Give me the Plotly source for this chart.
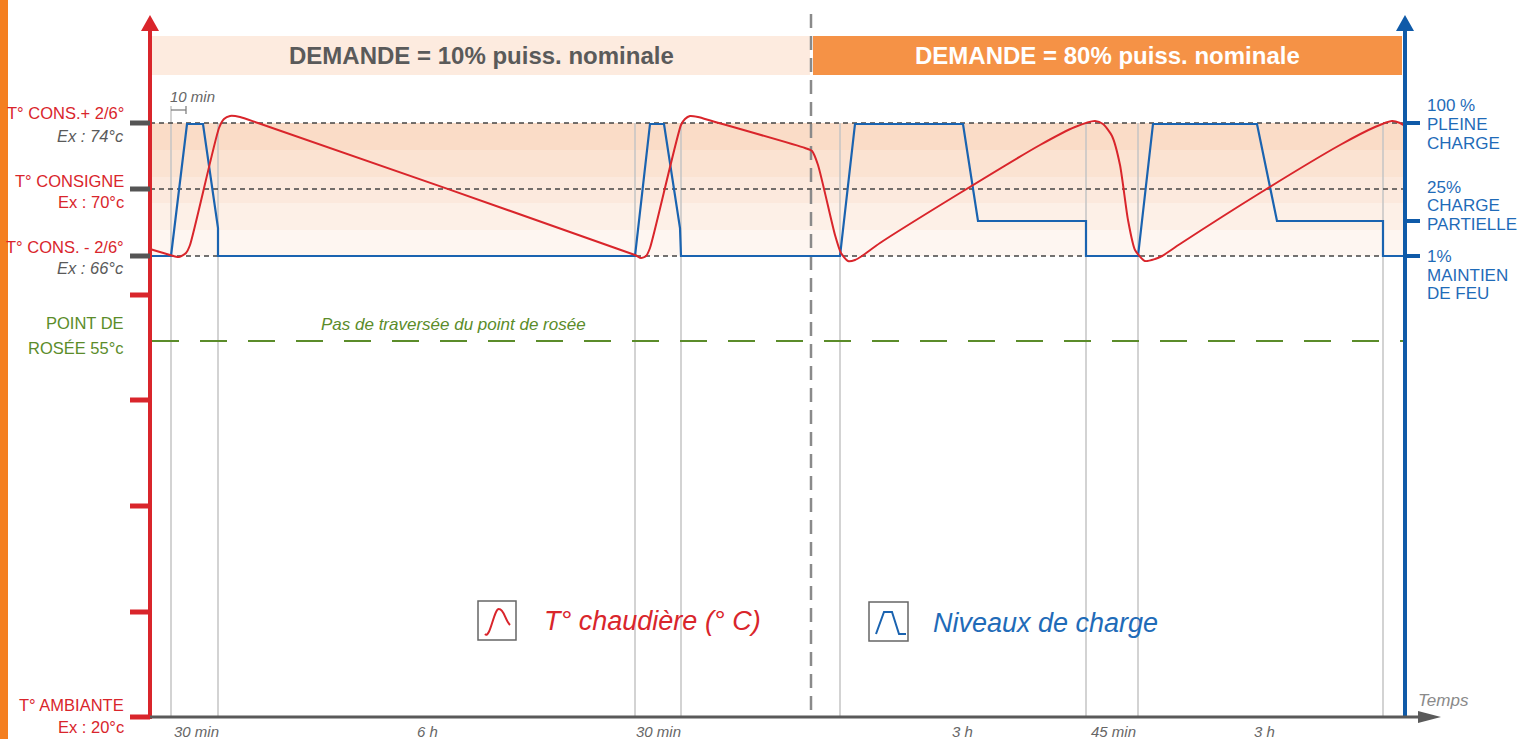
import plotly.graph_objects as go

# ---------------- data (schematic positions: x = time position, y = level row) ----------------
red_t = [150, 170, 179, 186, 190, 219, 224, 230, 240, 258, 635, 641, 646, 650, 681, 685, 690, 698, 712, 805,
         812, 818, 835, 841, 848, 855, 862, 880, 960, 1040, 1075, 1095, 1103, 1112, 1120, 1128, 1135, 1145,
         1155, 1162, 1180, 1260, 1340, 1375, 1392, 1400, 1405]
red_level = [249, 255, 257, 253, 245, 128, 119, 116, 117, 123, 255, 258, 256, 248, 125, 119, 116, 117, 121, 148,
             151, 165, 235, 253, 261, 260, 256, 243, 193, 145, 127, 121, 124, 136, 165, 220, 250, 261,
             259, 256, 244, 193, 145, 127, 121, 123, 126]

blue_t = [150, 171, 187, 203, 218, 218, 635, 650, 664, 680, 681, 840, 855, 963, 978, 1086, 1086, 1138, 1153,
          1257, 1277, 1383, 1383, 1405]
blue_level = [256, 256, 124, 124, 228, 256, 256, 124, 124, 228, 256, 256, 124, 124, 221, 221, 256, 256, 124,
              124, 221, 221, 256, 256]

cycle_marks = [171, 218, 635, 681, 840, 1086, 1138, 1383]
time_labels = ["30 min", "6 h", "30 min", "3 h", "45 min", "3 h"]
time_label_pos = [196, 427, 658, 962, 1113, 1264]

temp_rows = [123, 189, 256]          # T°cons+2/6, T°consigne, T°cons-2/6
red_tick_rows = [295, 400, 506, 612, 717]
dew_row = 341
load_rows = [123, 221, 256]          # 100 %, 25 %, 1 %
band_edges = [123, 150, 177, 203, 230, 256]
band_colors = ["#fadcc7", "#fbe3d2", "#fce9dd", "#fdf0e7", "#fef6f1"]

left_labels = [("T° CONS.+ 2/6°", 113, "#d9252b", False), ("Ex : 74°c", 136, "#5a5a5a", True),
               ("T° CONSIGNE", 181, "#d9252b", False), ("Ex : 70°c", 202, "#d9252b", False),
               ("T° CONS. - 2/6°", 247, "#d9252b", False), ("Ex : 66°c", 268, "#5a5a5a", True),
               ("POINT DE", 323, "#5b8c2a", False), ("ROSÉE 55°c", 348, "#5b8c2a", False),
               ("T° AMBIANTE", 705, "#d9252b", False), ("Ex : 20°c", 727, "#d9252b", False)]
right_labels = [("100 %", 105), ("PLEINE", 124), ("CHARGE", 143),
                ("25%", 187), ("CHARGE", 205), ("PARTIELLE", 224),
                ("1%", 256), ("MAINTIEN", 275), ("DE FEU", 293)]

RED = "#d9252b"
BLUE = "#1a63b0"
GREEN = "#5b8c2a"
GRAY = "#5a5a5a"
FONT = "Liberation Sans, Arial, sans-serif"

X0, X1 = 150, 1405
AXIS_Y = 717

fig = go.Figure()
shapes = []
ann = []

# left orange strip
shapes.append(dict(type="rect", x0=0, x1=8, y0=0, y1=739, fillcolor="#f47f20", line_width=0, layer="below"))

# bands
for i, c in enumerate(band_colors):
    shapes.append(dict(type="rect", x0=X0, x1=X1, y0=band_edges[i], y1=band_edges[i + 1],
                       fillcolor=c, line_width=0, layer="below"))

# banners
shapes.append(dict(type="rect", x0=152, x1=810, y0=36, y1=75, fillcolor="#fdebdf", line_width=0, layer="below"))
shapes.append(dict(type="rect", x0=813, x1=1402, y0=36, y1=75, fillcolor="#f59246", line_width=0, layer="below"))
ann.append(dict(x=481, y=55, text="<b>DEMANDE = 10% puiss. nominale</b>", font=dict(size=24, color=GRAY, family=FONT)))
ann.append(dict(x=1107, y=55, text="<b>DEMANDE = 80% puiss. nominale</b>", font=dict(size=24, color="white", family=FONT)))

# cycle vertical markers
for xm in cycle_marks:
    shapes.append(dict(type="line", x0=xm, x1=xm, y0=123 if xm != 171 else 106, y1=AXIS_Y,
                       line=dict(color="#c4c4c4", width=1.5), layer="below"))

# 10 min bracket
shapes.append(dict(type="line", x0=171, x1=186, y0=110, y1=110, line=dict(color="#777", width=1.2)))
shapes.append(dict(type="line", x0=186, x1=186, y0=106, y1=114, line=dict(color="#777", width=1.2)))
ann.append(dict(x=192, y=96, text="<i>10 min</i>", font=dict(size=15, color="#666", family=FONT)))

# temperature threshold dashed lines
for r in temp_rows:
    shapes.append(dict(type="line", x0=X0, x1=X1, y0=r, y1=r, line=dict(color="#444", width=1.3, dash="5px,4px"),
                       layer="below"))

# center dashed divider
shapes.append(dict(type="line", x0=811, x1=811, y0=14, y1=AXIS_Y, line=dict(color="#8a8a8a", width=2.5, dash="14px,8px"),
                   layer="below"))

# dew point line
shapes.append(dict(type="line", x0=152, x1=X1, y0=dew_row, y1=dew_row, line=dict(color=GREEN, width=2, dash="27px,21px"),
                   layer="below"))
ann.append(dict(x=453, y=324, text="<i>Pas de traversée du point de rosée</i>", font=dict(size=17, color=GREEN, family=FONT)))

# curves
fig.add_trace(go.Scatter(x=blue_t, y=blue_level, mode="lines", line=dict(color=BLUE, width=2.2), hoverinfo="skip"))
fig.add_trace(go.Scatter(x=red_t, y=red_level, mode="lines", line=dict(color=RED, width=2, shape="spline", smoothing=0.6),
                         hoverinfo="skip"))

# axes
shapes.append(dict(type="line", x0=X0, x1=X0, y0=28, y1=AXIS_Y + 2, line=dict(color=RED, width=4), layer="above"))
shapes.append(dict(type="path", path="M 141 31 L 150 15 L 159 31 Z", fillcolor=RED, line_width=0, layer="above"))
shapes.append(dict(type="line", x0=X1, x1=X1, y0=28, y1=AXIS_Y, line=dict(color="#0f5aa8", width=4), layer="above"))
shapes.append(dict(type="path", path="M 1396 31 L 1405 15 L 1414 31 Z", fillcolor="#0f5aa8", line_width=0, layer="above"))
shapes.append(dict(type="line", x0=X0, x1=1420, y0=AXIS_Y, y1=AXIS_Y, line=dict(color="#5a5a5a", width=3), layer="above"))
shapes.append(dict(type="path", path="M 1418 711 L 1441 717 L 1418 723 Z", fillcolor="#5a5a5a", line_width=0, layer="above"))
ann.append(dict(x=1443, y=700, text="<i>Temps</i>", font=dict(size=17, color="#8a8a8a", family=FONT)))

# ticks
for r in temp_rows:
    shapes.append(dict(type="line", x0=130, x1=X0, y0=r, y1=r, line=dict(color="#555", width=5), layer="above"))
for r in red_tick_rows:
    shapes.append(dict(type="line", x0=130, x1=X0, y0=r, y1=r, line=dict(color=RED, width=5), layer="above"))
for r in load_rows:
    shapes.append(dict(type="line", x0=X1, x1=1420, y0=r, y1=r, line=dict(color="#0f5aa8", width=4), layer="above"))

# labels
for text, row, col, ital in left_labels:
    t = f"<i>{text}</i>" if ital else text
    ann.append(dict(x=126, y=row, text=t, xanchor="right", font=dict(size=16.5, color=col, family=FONT)))
for text, row in right_labels:
    ann.append(dict(x=1425, y=row, text=text, xanchor="left", font=dict(size=17, color="#1f6bb8", family=FONT)))
for text, xp in zip(time_labels, time_label_pos):
    ann.append(dict(x=xp, y=731, text=f"<i>{text}</i>", font=dict(size=15, color="#666", family=FONT)))

# legend boxes
shapes.append(dict(type="rect", x0=478, x1=516, y0=601, y1=640, line=dict(color="#666", width=1.5), fillcolor="white"))
shapes.append(dict(type="path", path="M 485 634 C 490 640, 494 608, 499 609 C 504 609, 505 620, 510 625",
                   line=dict(color=RED, width=2)))
ann.append(dict(x=542, y=621, text="<i>T° chaudière (° C)</i>", xanchor="left", font=dict(size=27, color=RED, family=FONT)))
shapes.append(dict(type="rect", x0=869, x1=908, y0=602, y1=641, line=dict(color="#666", width=1.5), fillcolor="white"))
shapes.append(dict(type="path", path="M 876 634 L 884 612 L 892 612 L 899 634 L 906 634",
                   line=dict(color=BLUE, width=2)))
ann.append(dict(x=931, y=623, text="<i>Niveaux de charge</i>", xanchor="left", font=dict(size=27, color="#1f6bb8", family=FONT)))

for a in ann:
    a.setdefault("showarrow", False)
    a.setdefault("xanchor", "center")
    a.setdefault("yanchor", "middle")
    a["xref"] = "x"
    a["yref"] = "y"
for s in shapes:
    s["xref"] = "x"
    s["yref"] = "y"

fig.update_layout(
    width=1523, height=739,
    margin=dict(l=0, r=0, t=0, b=0),
    paper_bgcolor="white", plot_bgcolor="white",
    showlegend=False,
    xaxis=dict(range=[0, 1523], visible=False, fixedrange=True),
    yaxis=dict(range=[739, 0], visible=False, fixedrange=True),
    shapes=shapes, annotations=ann,
)

fig.write_html("out.html", config={"displayModeBar": False},
               post_script="document.body.style.margin='0';document.body.style.overflow='hidden';")
